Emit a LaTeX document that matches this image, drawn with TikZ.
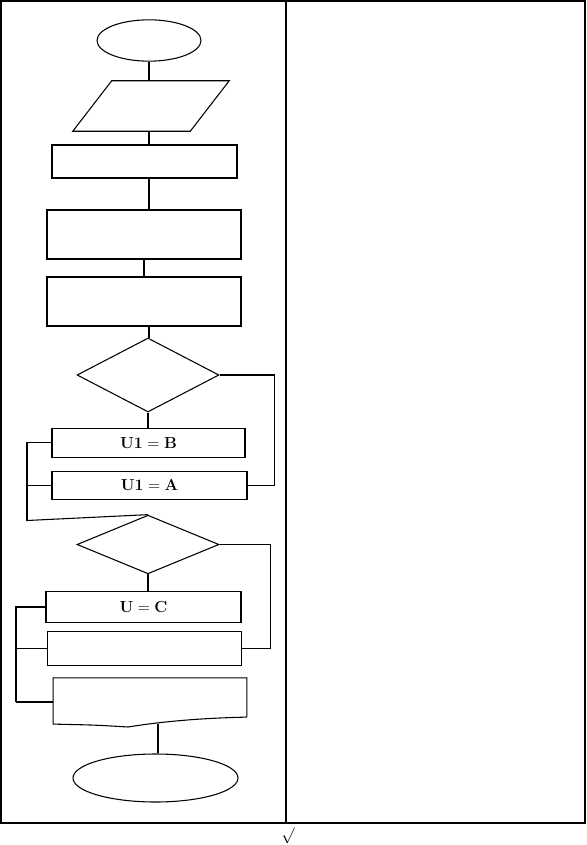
\documentclass[tikz,border=0pt]{standalone}
\usepackage{amsmath, amssymb}
\usepackage{tikz}
\usetikzlibrary{shapes,positioning,calc}

\begin{document}
\begin{tikzpicture}[x=0.75pt, y=-0.75pt,
    term/.style={ellipse, draw, line width=0.8pt, inner sep=0pt},
    slot/.style={rectangle, draw=none, inner sep=0pt},
    box/.style={rectangle, draw, line width=0.8pt, inner sep=0pt, font=\large},
    cond/.style={diamond, draw, line width=0.8pt, inner sep=0pt},
    link/.style={line width=0.8pt}
]
\useasboundingbox (0,0) rectangle (586,845);

% table frame
\draw[line width=1.1pt] (1,1) rectangle (585,823);
\draw[line width=1.1pt] (286,1) -- (286,823);
\node[font=\large] (tick) at (288,836) {$\surd$};

% start / input / process
\node[term, minimum width=78pt, minimum height=31pt] (start) at (149,40.5) {};
\node[slot, minimum width=117pt, minimum height=37.5pt] (input) at (151,106) {};
\draw[link] ([shift={(39,0)}]input.north west) -- (input.north east)
    -- ([shift={(-39,0)}]input.south east) -- (input.south west) -- cycle;
\node[box, minimum width=138.75pt, minimum height=24.75pt] (proc1) at (144.5,161.5) {};
\node[box, minimum width=145.5pt, minimum height=36.75pt] (proc2) at (144,234.5) {};
\node[box, minimum width=145.5pt, minimum height=36.75pt] (proc3) at (144,301.5) {};
\draw[link] (start.south) -- (start.south |- input.north);
\draw[link] (start.south |- input.south) -- (start.south |- proc1.north);
\draw[link] (proc1.south -| start.south) -- (start.south |- proc2.north);
\draw[link] (proc2.south) -- (proc3.north);
\draw[link] (proc3.south -| start.south) -- (start.south |- 0,338);

% first decision
\node[cond, minimum width=106.5pt, minimum height=55.5pt] (dec1) at (148,375) {};
\node[box, minimum width=144.75pt, minimum height=21.75pt] (setB) at (148.5,442.75) {$\mathbf{U1}=\mathbf{B}$};
\node[box, minimum width=146.25pt, minimum height=21pt] (setA) at (149.5,485.5) {$\mathbf{U1}=\mathbf{A}$};
\draw[link] (dec1.south) -- (dec1.south |- setB.north);
\draw[link] (dec1.east) -- ++(55,0) |- (setA.east);
\coordinate (loopA) at (27,520.5);
\draw[link] (setB.west) -| (loopA);
\draw[link] (setA.west) -- (setA.west -| loopA);

% second decision
\node[cond, minimum width=106.5pt, minimum height=44pt] (dec2) at (148,544.5) {};
\draw[link] (loopA) -- (dec2.north);
\node[box, minimum width=146.25pt, minimum height=23.5pt] (setC) at (143.5,607) {$\mathbf{U}=\mathbf{C}$};
\node[box, minimum width=145.5pt, minimum height=25.5pt] (proc4) at (144.2,648.5) {};
\draw[link] (dec2.south) -- (dec2.south |- setC.north);
\draw[link] (dec2.east) -- ++(51,0) |- (proc4.east);
\coordinate (loopB) at (16,702);
\draw[link] (setC.west) -| (loopB);
\draw[link] (proc4.west) -- (proc4.west -| loopB);

% output document
\node[slot, minimum width=145pt, minimum height=29pt] (doc) at (150,697.5) {};
\draw[link] (doc.south east) -- (doc.north east) -- (doc.north west) -- ([shift={(0,7)}]doc.south west)
    .. controls (95,725) .. (128,727)
    .. controls (165,721) and (205,718) .. (doc.south east);
\draw[link] (loopB) -- (loopB -| doc.west);

% end
\node[term, minimum width=123.75pt, minimum height=36pt] (stop) at (155.5,778) {};
\coordinate (docfoot) at (158,724);
\draw[link] (docfoot) -- (docfoot |- stop.north);

\end{tikzpicture}
\end{document}
